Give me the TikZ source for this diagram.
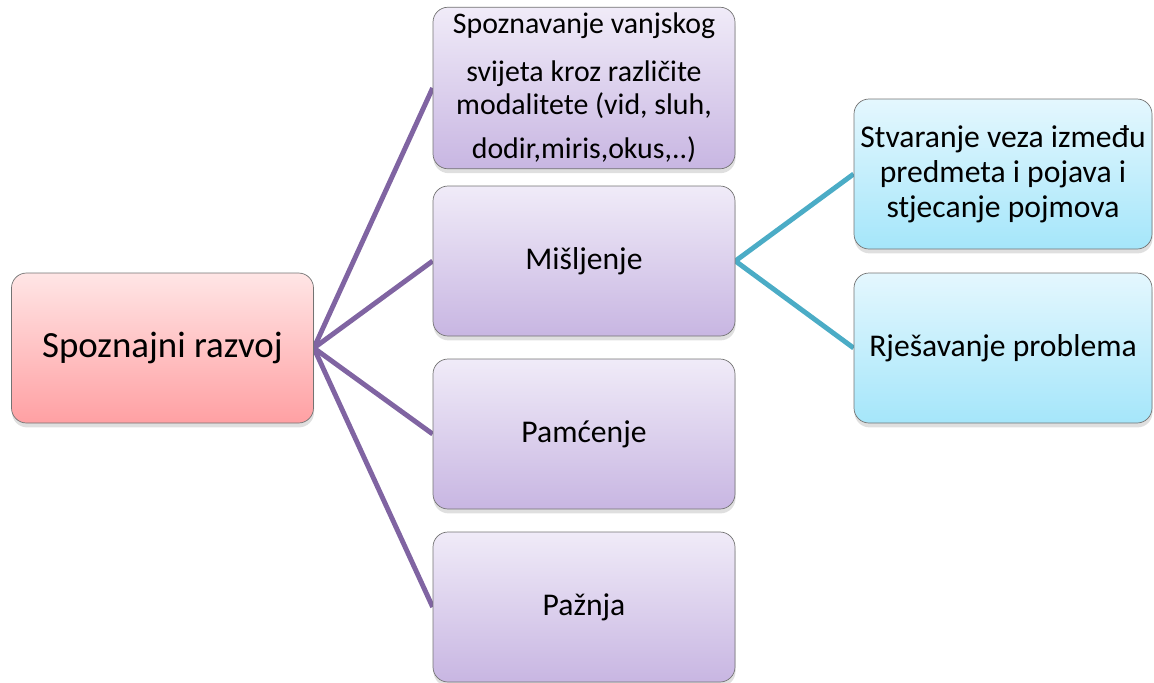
\documentclass[tikz,border=0pt]{standalone}
\usepackage{fontspec}
\setmainfont{Carlito}
\usepackage{tikz}
\usetikzlibrary{shadows, backgrounds}
\definecolor{branchpurple}{HTML}{8064A2}
\definecolor{branchteal}{HTML}{4BACC6}
\tikzstyle{box} = [rectangle, draw=black!55, thin, rounded corners=0.3cm, minimum height=3cm, minimum width=6.04cm, align=center, drop shadow={opacity=0.25, shadow xshift=0.3pt, shadow yshift=-2.5pt}]
\tikzstyle{root} = [box, top color=red!10!white, bottom color={rgb,255:red,255;green,160;blue,163}, font=\fontsize{21}{25}\selectfont]
\tikzstyle{topic} = [box, top color={rgb,255:red,240;green,235;blue,248}, bottom color={rgb,255:red,200;green,182;blue,226}, font=\fontsize{18}{22}\selectfont]
\tikzstyle{subtopic} = [box, minimum width=5.96cm, top color={rgb,255:red,228;green,247;blue,254}, bottom color={rgb,255:red,165;green,230;blue,250}, font=\fontsize{18}{20}\selectfont]
\tikzstyle{branch} = [-, line width=2.8pt, draw=branchpurple]
\tikzstyle{subbranch} = [-, line width=2.8pt, draw=branchteal]

\begin{document}
\begin{tikzpicture}[node distance=3.46cm]
    \useasboundingbox (0,0) rectangle (23.08,-13.64);

        % nodes
        \node (razvoj) [root] at (3.25,-6.96) {Spoznajni razvoj};
        \node (misljenje) [topic] at (11.68,-5.22) {Mišljenje};
        \node (spoznavanje) [topic, above of=misljenje, font=\fontsize{17}{18.8}\selectfont] {Spoznavanje vanjskog\\[8.5pt] svijeta kroz različite\\ modalitete (vid, sluh,\\[6.2pt] dodir,miris,okus,..)};
        \node (pamcenje) [topic, below of=misljenje] {Pamćenje};
        \node (paznja) [topic, below of=pamcenje] {Pažnja};
        \node (veze) [subtopic] at (20.06,-3.48) {Stvaranje veza između\\ predmeta i pojava i\\ stjecanje pojmova};
        \node (problemi) [subtopic, below of=veze, node distance=3.48cm] {Rješavanje problema};

        % edges
        \begin{scope}[on background layer]
        \draw [branch] (razvoj.east) -- (spoznavanje.west);
        \draw [branch] (razvoj.east) -- (misljenje.west);
        \draw [branch] (razvoj.east) -- (pamcenje.west);
        \draw [branch] (razvoj.east) -- (paznja.west);
        \draw [subbranch] (misljenje.east) -- (veze.west);
        \draw [subbranch] (misljenje.east) -- (problemi.west);
        \end{scope}

\end{tikzpicture}
\end{document}
